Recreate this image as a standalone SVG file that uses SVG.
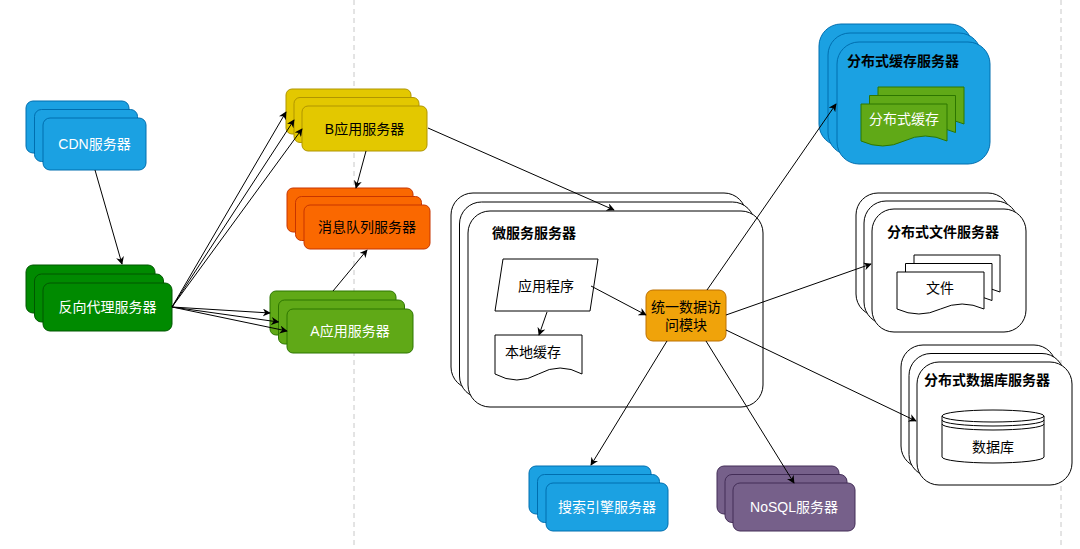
<svg xmlns="http://www.w3.org/2000/svg" width="1080" height="549" viewBox="0 0 1080 549">
<defs>
<marker id="ah" viewBox="0 0 10 10" refX="9" refY="5" markerWidth="8" markerHeight="8" orient="auto" markerUnits="userSpaceOnUse"><path d="M0,0 L10,5 L0,10 L3,5 z" fill="#000"/></marker>
<style>
text{font-family:"Liberation Sans","Noto Sans CJK SC",sans-serif;font-size:14px;text-anchor:middle;dominant-baseline:central}
.t{font-weight:bold;text-anchor:start;font-size:14px}
.w{fill:#fff}
.k{fill:#000}
.cdn{fill:#1ba1e2;stroke:#006eaf}
.px{fill:#008a00;stroke:#005700}
.b{fill:#e3c800;stroke:#b09500}
.mq{fill:#fa6800;stroke:#c73500}
.a{fill:#60a917;stroke:#2d7600}
.nq{fill:#76608a;stroke:#432d57}
.card{fill:#fff;stroke:#000;stroke-width:1}
.doc{fill:#fff;stroke:#000}
.gd{fill:#60a917;stroke:#2d7600}
.e{fill:none;stroke:#000;stroke-width:1;marker-end:url(#ah)}
.dash{stroke:#c8c8c8;stroke-dasharray:5 4;stroke-width:1}
</style>
</defs>
<rect width="1080" height="549" fill="#fff"/>
<line class="dash" x1="354" y1="0" x2="354" y2="549"/>
<line class="dash" x1="1061" y1="0" x2="1061" y2="549"/>

<g id="cdn">
<rect class="cdn" x="26" y="101" width="103" height="52" rx="7"/>
<rect class="cdn" x="34.5" y="109.5" width="103" height="52" rx="7"/>
<rect class="cdn" x="43" y="118" width="103" height="52" rx="7"/>
<text class="w" x="94.5" y="144">CDN服务器</text>
</g>

<g id="proxy">
<rect class="px" x="26" y="265" width="129" height="48" rx="7"/>
<rect class="px" x="34.5" y="274" width="129" height="48" rx="7"/>
<rect class="px" x="43" y="283" width="129" height="48" rx="7"/>
<text class="w" x="107.5" y="307">反向代理服务器</text>
</g>

<g id="bapp">
<rect class="b" x="286" y="89" width="125" height="45" rx="6"/>
<rect class="b" x="294" y="97.5" width="125" height="45" rx="6"/>
<rect class="b" x="302" y="106" width="125" height="45" rx="6"/>
<text class="k" x="364.5" y="128.5">B应用服务器</text>
</g>

<g id="mq">
<rect class="mq" x="287" y="188" width="126" height="44" rx="6"/>
<rect class="mq" x="295.5" y="196.5" width="126" height="44" rx="6"/>
<rect class="mq" x="304" y="205" width="126" height="44" rx="6"/>
<text class="k" x="367" y="227">消息队列服务器</text>
</g>

<g id="aapp">
<rect class="a" x="270" y="291" width="126" height="44" rx="6"/>
<rect class="a" x="278.5" y="300" width="126" height="44" rx="6"/>
<rect class="a" x="287" y="309" width="126" height="44" rx="6"/>
<text class="w" x="350" y="331">A应用服务器</text>
</g>

<g id="micro">
<rect class="card" x="451" y="193" width="295" height="196" rx="22"/>
<rect class="card" x="459.5" y="202" width="295" height="196" rx="22"/>
<rect class="card" x="468" y="211" width="295" height="196" rx="22"/>
<text class="t" x="492" y="233">微服务服务器</text>
<path class="doc" d="M503,259 L598,259 L590,311 L495,311 Z"/>
<text class="k" x="546" y="286">应用程序</text>
<path class="doc" d="M495,335 H582 V374 Q560,362 538.5,374 T495,374 Z"/>
<text class="k" x="533" y="352">本地缓存</text>
<rect x="646" y="290" width="80" height="51" rx="7" fill="#f0a30a" stroke="#bd7000"/>
<text class="k" x="686" y="307">统一数据访</text>
<text class="k" x="686" y="325">问模块</text>
</g>

<g id="cache">
<rect class="cdn" x="819" y="24" width="153" height="122" rx="22"/>
<rect class="cdn" x="828" y="33" width="153" height="122" rx="22"/>
<rect class="cdn" x="837" y="42" width="153" height="122" rx="22"/>
<text class="t k" x="847" y="61">分布式缓存服务器</text>
<path class="gd" d="M878,87 H964 V124 Q942,114 921,124 T878,124 Z"/>
<path class="gd" d="M869.5,95.5 H955.5 V132.5 Q933.5,122.5 912.5,132.5 T869.5,132.5 Z"/>
<path class="gd" d="M861,104 H947 V141 Q925,131 904,141 T861,141 Z"/>
<text class="w" x="904" y="119">分布式缓存</text>
</g>

<g id="file">
<rect class="card" x="856" y="193" width="154" height="123" rx="22"/>
<rect class="card" x="864" y="201" width="154" height="123" rx="22"/>
<rect class="card" x="872" y="209" width="154" height="123" rx="22"/>
<text class="t k" x="887" y="232">分布式文件服务器</text>
<path class="doc" d="M914,255 H1000 V292 Q978,282 957,292 T914,292 Z"/>
<path class="doc" d="M905.5,263.5 H992 V300.5 Q970,290.5 949,300.5 T905.5,300.5 Z"/>
<path class="doc" d="M897,272 H984 V309 Q962,299 940.5,309 T897,309 Z"/>
<text class="k" x="940" y="288">文件</text>
</g>

<g id="db">
<rect class="card" x="901" y="345" width="155" height="123" rx="22"/>
<rect class="card" x="909" y="353.5" width="155" height="123" rx="22"/>
<rect class="card" x="917" y="362" width="155" height="123" rx="22"/>
<text class="t k" x="924" y="380">分布式数据库服务器</text>
<path class="doc" d="M942,416 A51,6 0 0 1 1044,416 V457 A51,6 0 0 1 942,457 Z"/>
<path fill="none" stroke="#000" d="M942,416 A51,6 0 0 0 1044,416 M942,420 A51,6 0 0 0 1044,420 M942,424 A51,6 0 0 0 1044,424"/>
<text class="k" x="993" y="447">数据库</text>
</g>

<g id="search">
<rect class="cdn" x="529" y="466" width="122" height="48" rx="7"/>
<rect class="cdn" x="537.5" y="474.5" width="122" height="48" rx="7"/>
<rect class="cdn" x="546" y="483" width="122" height="48" rx="7"/>
<text class="w" x="607" y="507">搜索引擎服务器</text>
</g>

<g id="nosql">
<rect class="nq" x="717" y="466" width="122" height="48" rx="7"/>
<rect class="nq" x="725" y="474.5" width="122" height="48" rx="7"/>
<rect class="nq" x="733" y="483" width="122" height="48" rx="7"/>
<text class="w" x="794" y="507">NoSQL服务器</text>
</g>

<g id="connectors">
<line class="e" x1="95" y1="170" x2="122" y2="264"/>
<line class="e" x1="172" y1="307" x2="286" y2="112"/>
<line class="e" x1="172" y1="307" x2="294" y2="120"/>
<line class="e" x1="172" y1="307" x2="302" y2="129"/>
<line class="e" x1="172" y1="307" x2="270" y2="313"/>
<line class="e" x1="172" y1="307" x2="278.5" y2="322"/>
<line class="e" x1="172" y1="307" x2="287" y2="331"/>
<line class="e" x1="366" y1="151" x2="356" y2="188"/>
<line class="e" x1="333" y1="291" x2="367" y2="250"/>
<line class="e" x1="428" y1="128" x2="614" y2="210"/>
<line class="e" x1="591" y1="286" x2="646" y2="315"/>
<line class="e" x1="547" y1="312" x2="539" y2="335"/>
<line class="e" x1="707" y1="290" x2="836" y2="104"/>
<line class="e" x1="726" y1="315" x2="871" y2="264"/>
<line class="e" x1="726" y1="330" x2="916" y2="421"/>
<line class="e" x1="667" y1="341" x2="591" y2="465"/>
<line class="e" x1="706" y1="341" x2="794" y2="483"/>
</g>
</svg>
